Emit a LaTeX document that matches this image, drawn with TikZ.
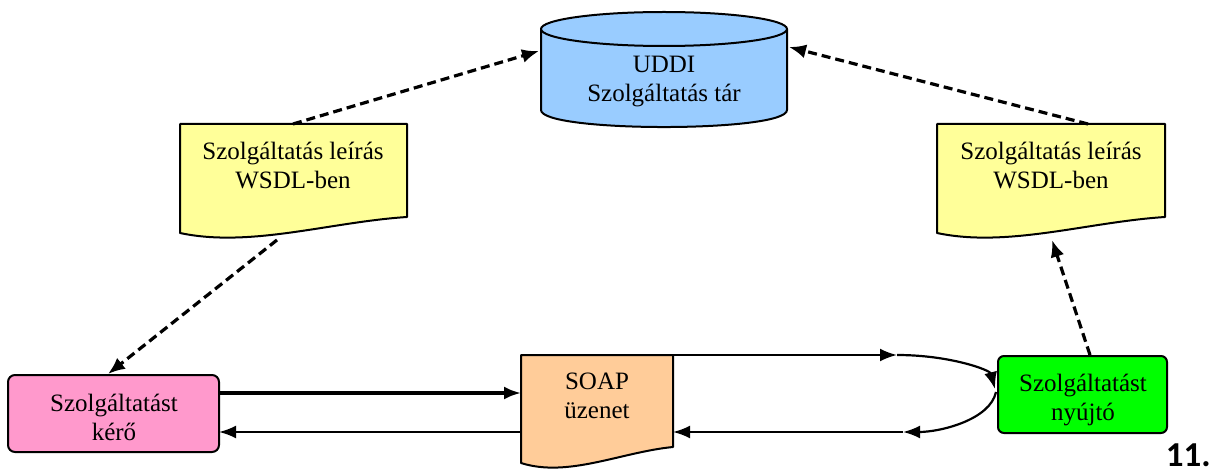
\documentclass[tikz,border=0pt]{standalone}
\usepackage{fontspec}
\setmainfont{Liberation Serif}
\newfontfamily\calfont{Carlito}
\usetikzlibrary{arrows.meta}
\definecolor{uddiblue}{HTML}{99CCFF}
\definecolor{docyellow}{HTML}{FFFF99}
\definecolor{keropink}{HTML}{FF99CC}
\definecolor{soaporange}{HTML}{FFCC99}
\definecolor{nyujtogreen}{HTML}{00FF00}
\newcommand{\wavydoc}[5]{%
  \filldraw[bord, fill=#5] (#1,#2) -- (#3,#2) -- (#3,{#4-16})
    .. controls ({#1+0.66*(#3-#1)},{#4-11}) and ({#1+0.31*(#3-#1)},{#4+15}) .. (#1,#4) -- cycle;}
\begin{document}
\begin{tikzpicture}[x=1pt,y=-1pt,
  lbl/.style={font=\fontsize{25}{29}\selectfont, align=center, inner sep=0pt},
  bord/.style={draw=black, line width=2pt, line join=round},
  boxnode/.style={bord, rounded corners=7pt, inner sep=0pt},
  dasharrow/.style={line width=3.2pt, dash pattern=on 9pt off 5pt, -{Latex[length=17pt,width=14pt]}},
  solidarrow/.style={line width=2.2pt, -{Latex[length=17pt,width=13pt]}},
]
\useasboundingbox (0,0) rectangle (1217,473);
% UDDI cylinder
\path[fill=uddiblue] (541,29) -- (541,110) .. controls (541,132.7) and (787,132.7) .. (787,110) -- (787,29) -- cycle;
\draw[bord] (541,29) -- (541,110) .. controls (541,132.7) and (787,132.7) .. (787,110) -- (787,29);
\filldraw[bord, fill=uddiblue] (664,29) ellipse (123 and 17);
\node[lbl] (uddi) at (664,82) {UDDI\\Szolgáltatás tár};
% documents
\wavydoc{180}{124}{407}{233}{docyellow}
\node[lbl] (ldoc) at (293,165) {Szolgáltatás leírás\\WSDL-ben};
\wavydoc{937}{124}{1165}{233}{docyellow}
\node[lbl] (rdoc) at (1051,165) {Szolgáltatás leírás\\WSDL-ben};
\wavydoc{521}{355}{673}{463}{soaporange}
\node[lbl] (soap) at (597,396) {SOAP\\üzenet};
% boxes
\node[boxnode, fill=keropink, minimum width=211pt, minimum height=77pt] (kero) at (113.5,413.5) {};
\node[lbl] (keroT) at (114,417) {Szolgáltatást\\kérő};
\node[boxnode, fill=nyujtogreen, rounded corners=6pt, minimum width=169pt, minimum height=77pt] (nyujto) at (1082.5,394.5) {};
\node[lbl] (nyujtoT) at (1083,400) {Szolgáltatást\\nyújtó};
\node[font=\calfont\bfseries\fontsize{35}{35}\selectfont, anchor=base east, inner sep=0pt] (num) at (1211,466) {11.};
% connector end points
\coordinate (ldocN) at (293,124);
\coordinate (ldocS) at (277,240);
\coordinate (rdocN) at (1088,124);
\coordinate (rdocS) at (1052,240);
\coordinate (uddiW) at (539,51);
\coordinate (uddiE) at (789,47);
\coordinate (keroN) at (108,374);
\coordinate (keroE1) at (219,393);
\coordinate (keroE2) at (219,432);
\coordinate (soapW1) at (521,393);
\coordinate (soapW2) at (521,432);
\coordinate (soapNE) at (673,355);
\coordinate (soapE2) at (673,432);
\coordinate (nyujtoN) at (1090,355);
\coordinate (nyujtoW1) at (995,389);
\coordinate (nyujtoW2) at (996,392);
\coordinate (turn1) at (897,355);
\coordinate (turn2) at (903,432);
% dashed arrows
\draw[dasharrow] (ldocN) -- (uddiW);
\draw[dasharrow] (rdocN) -- (uddiE);
\draw[dasharrow] (ldocS) -- (keroN);
\draw[dasharrow] (nyujtoN) -- (rdocS);
% solid arrows
\draw[solidarrow, line width=3.2pt] (keroE1) -- (soapW1);
\draw[solidarrow] (soapW2) -- (keroE2);
\draw[solidarrow] (soapNE) -- (turn1);
\draw[solidarrow] (turn1) .. controls (950,355) and (990,370) .. (nyujtoW1);
\draw[solidarrow] (nyujtoW2) .. controls (990,420) and (940,432) .. (turn2);
\draw[solidarrow] (turn2) -- (soapE2);
\end{tikzpicture}
\end{document}
